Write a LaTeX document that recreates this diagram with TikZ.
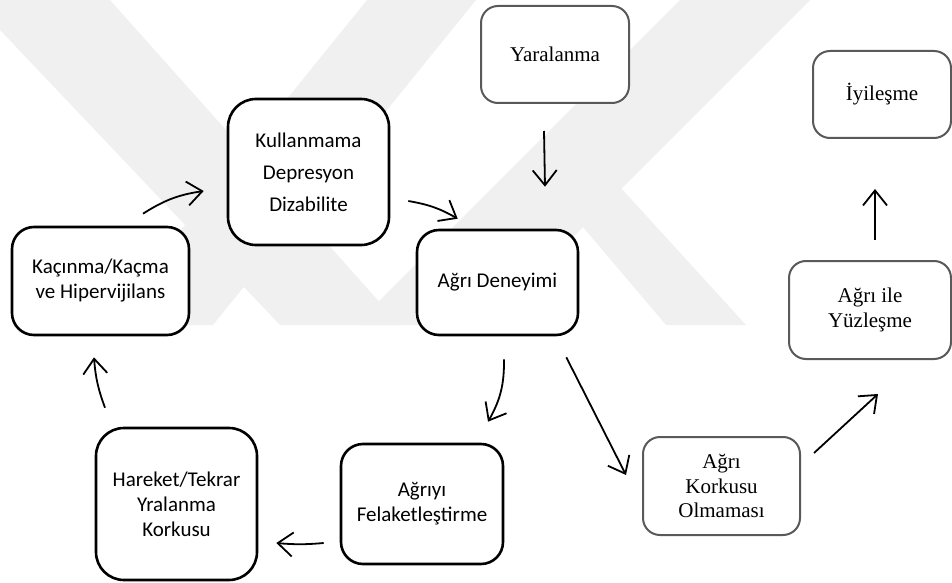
\documentclass[tikz,border=0pt]{standalone}
\usepackage{fontspec}
\setmainfont{Liberation Serif}
\newfontfamily\calibri{Carlito}
\usetikzlibrary{arrows.meta}

\tikzset{
  kutu/.style={draw, fill=white, line width=2.6pt, rounded corners=22pt, inner sep=0pt, align=center,
    font=\calibri\fontsize{21}{25}\selectfont},
  grikutu/.style={draw=black!65, fill=white, line width=2pt, rounded corners=17pt, inner sep=0pt, align=center,
    font=\fontsize{21}{24.5}\selectfont},
  ok/.style={line width=1.8pt, -{Straight Barb[length=15pt,width=24pt]}},
  filigran/.style={fill=black!6, draw=none}
}

\begin{document}
\begin{tikzpicture}[x=1pt,y=1pt]
\useasboundingbox (0,0) rectangle (952,582);

% silik arka plan
\fill[filigran] (0,582) -- (110,582) -- (400,257) -- (280,257) -- (0,552) -- cycle;
\fill[filigran] (367,582) -- (476,582) -- (213,257) -- (104,257) -- cycle;
\fill[filigran] (560,382) -- (600,417) -- (746,257) -- (666,257) -- cycle;
\fill[filigran] (680,582) -- (810,582) -- (485,257) -- (355,257) -- cycle;

\node[grikutu, minimum width=148pt, minimum height=97pt] (yaral) at (555,527.5) {Yaralanma};
\node[grikutu, minimum width=138pt, minimum height=87pt] (iyiles) at (882,487.5) {İyileşme};
\node[kutu, rounded corners=28pt, minimum width=161pt, minimum height=146pt,
  font=\calibri\fontsize{21}{32}\selectfont] (kullan) at (308.5,410) {Kullanmama\\Depresyon\\Dizabilite};
\node[kutu, minimum width=177pt, minimum height=108pt] (kacin) at (100.5,301) {Kaçınma/Kaçma\\ve Hipervijilans};
\node[kutu, minimum width=161pt, minimum height=105pt] (deney) at (497.5,299.5) {Ağrı Deneyimi};
\node[grikutu, minimum width=162pt, minimum height=98pt] (yuzles) at (870,272) {Ağrı ile\\Yüzleşme};
\node[kutu, rounded corners=28pt, minimum width=161pt, minimum height=152pt] (hareket) at (176.5,78) {Hareket/Tekrar\\Yralanma\\Korkusu};
\node[kutu, minimum width=162pt, minimum height=120pt] (felaket) at (422,78) {Ağrıyı\\Felaketleştirme};
\node[grikutu, minimum width=157pt, minimum height=98pt] (korku) at (721.5,96) {Ağrı\\Korkusu\\Olmaması};

\path[draw,ok] ([xshift=-11pt,yshift=-27pt]yaral.south) -- ([xshift=47.5pt,yshift=42pt]deney.north);
\path[draw,ok] ([xshift=18pt,yshift=-29pt]kullan.east) to[bend left=10] ([xshift=42pt,yshift=10pt]deney.north west);
\path[draw,ok] ([xshift=42.5pt,yshift=12pt]kacin.north) to[bend left=12] ([xshift=-23pt,yshift=-19pt]kullan.west);
\path[draw,ok] ([xshift=-71.5pt,yshift=19pt]hareket.north) to[bend left=8] ([xshift=-6.5pt,yshift=-21pt]kacin.south);
\path[draw,ok] ([xshift=-16pt,yshift=-39pt]felaket.west) to[bend left=5] ([xshift=18pt,yshift=-39pt]hareket.east);
\path[draw,ok] ([xshift=6.5pt,yshift=-23pt]deney.south) to[bend left=15] ([xshift=66pt,yshift=21pt]felaket.north);
\path[draw,ok] ([xshift=-13pt,yshift=-21pt]deney.south east) -- ([xshift=-16pt,yshift=11pt]korku.west);
\path[draw,ok] ([xshift=13pt,yshift=33pt]korku.east) -- ([xshift=8pt,yshift=-34pt]yuzles.south);
\path[draw,ok] ([xshift=5pt,yshift=20pt]yuzles.north) -- ([xshift=-7pt,yshift=-50pt]iyiles.south);
\end{tikzpicture}
\end{document}
